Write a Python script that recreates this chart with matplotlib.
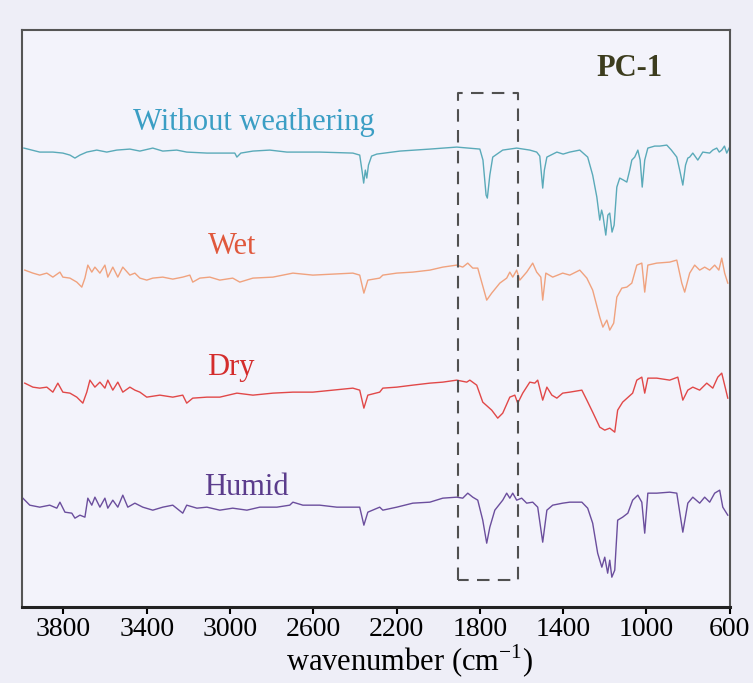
import numpy as np
import matplotlib
matplotlib.use("Agg")
import matplotlib.pyplot as plt

plt.rcParams["font.family"] = ["Liberation Serif", "DejaVu Serif"]
plt.rcParams["mathtext.fontset"] = "custom"
plt.rcParams["mathtext.rm"] = "Liberation Serif"

# ---- spectra: wavenumber (cm-1) and relative transmittance (a.u.) ----
wn_none = [3990, 3914, 3851, 3803, 3769, 3745, 3721, 3688, 3640, 3592, 3544, 3481, 3433, 3371, 3323,
           3256, 3208, 3111, 3015, 2977, 2967, 2948, 2890, 2809, 2727, 2569, 2410, 2377, 2365, 2358,
           2350, 2343, 2335, 2320, 2295, 2184, 2040, 1911, 1800, 1785, 1770, 1764, 1752, 1738, 1690,
           1623, 1560, 1527, 1512, 1498, 1490, 1478, 1430, 1400, 1368, 1320, 1282, 1258, 1238, 1224,
           1215, 1209, 1195, 1185, 1176, 1165, 1155, 1142, 1128, 1110, 1094, 1080, 1070, 1056, 1041,
           1030, 1020, 1008, 993, 960, 936, 902, 880, 854, 840, 825, 812, 801, 792, 777, 753, 729,
           696, 681, 662, 650, 638, 625, 614, 600]
t_none = [2, -2, -2, -3, -5, -8, -5, -2, 0, -2, 0, 1, -1, 2, -1,
          0, -2, -3, -3, -3, -7, -3, -1, 0, -2, -2, -3, -5, -22, -33,
          -20, -28, -15, -6, -4, -1, 1, 3, 1, -10, -45, -48, -25, -7, 0,
          2, 0, -2, -6, -38, -20, -7, -2, -4, -2, 0, -7, -25, -47, -70,
          -60, -65, -85, -65, -63, -82, -75, -37, -28, -30, -32, -20, -10, -7, 0,
          -10, -37, -10, 2, 4, 4, 5, 0, -7, -20, -35, -15, -8, -7, -3, -10, -2,
          -3, 0, 2, -2, 0, 4, -3, 3]

wn_wet = [3986, 3947, 3914, 3880, 3851, 3817, 3803, 3769, 3736, 3712, 3697, 3683, 3664, 3649, 3625,
          3601, 3587, 3563, 3539, 3515, 3481, 3457, 3433, 3400, 3371, 3323, 3275, 3227, 3193, 3179,
          3145, 3097, 3049, 2987, 2953, 2890, 2794, 2698, 2602, 2506, 2410, 2377, 2357, 2338, 2281,
          2266, 2199, 2122, 2040, 1978, 1911, 1882, 1858, 1834, 1810, 1767, 1743, 1704, 1671, 1656,
          1642, 1623, 1608, 1575, 1546, 1527, 1507, 1498, 1483, 1450, 1402, 1368, 1320, 1286, 1258,
          1224, 1209, 1190, 1176, 1157, 1142, 1118, 1094, 1070, 1046, 1022, 1008, 993, 950, 888,
          854, 830, 816, 792, 768, 744, 720, 696, 672, 652, 638, 624, 609]
t_wet = [5, 2, 0, 2, -2, 3, -2, -3, -7, -12, -3, 10, 3, 8, 2,
         10, -2, 8, -2, 8, 0, 2, -3, -5, -3, -2, -4, -2, 0, -7,
         -3, -2, -5, -3, -7, -3, -2, 2, 0, 1, 2, 0, -18, -5, -3,
         0, 2, 3, 5, 8, 10, 8, 12, 7, 7, -25, -18, -8, -3, 3,
         -2, 5, -5, 3, 12, 3, -2, -25, 2, -2, 2, 0, 5, -3, -15,
         -42, -52, -45, -55, -48, -22, -13, -12, -8, 10, 12, -17, 10, 12, 13,
         15, -8, -17, 2, 10, 5, 8, 5, 10, 5, 17, 2, -8]

wn_dry = [3986, 3947, 3914, 3880, 3851, 3827, 3803, 3769, 3736, 3707, 3688, 3673, 3649, 3625, 3601,
          3587, 3563, 3539, 3515, 3481, 3457, 3433, 3400, 3337, 3275, 3227, 3208, 3179, 3111, 3049,
          2967, 2890, 2794, 2698, 2602, 2506, 2410, 2377, 2357, 2338, 2281, 2266, 2199, 2122, 2040,
          1978, 1911, 1863, 1848, 1815, 1786, 1743, 1714, 1690, 1656, 1632, 1618, 1594, 1560, 1536,
          1522, 1498, 1478, 1454, 1430, 1402, 1368, 1310, 1286, 1258, 1224, 1200, 1176, 1152, 1138,
          1114, 1066, 1046, 1022, 1008, 993, 950, 888, 849, 825, 801, 777, 744, 710, 681,
          657, 638, 624, 609]
t_dry = [7, 3, 2, 3, -2, 7, -2, -3, -7, -13, -2, 10, 3, 8, 2,
         10, 0, 8, -2, 3, 0, -2, -7, -5, -7, -5, -13, -8, -7, -7,
         -3, -5, -3, -2, -2, 0, 2, 0, -18, -5, -2, 2, 3, 5, 7,
         8, 10, 8, 10, 5, -12, -20, -28, -23, -7, -5, -13, -3, 8, 7,
         10, -10, 3, -5, -8, -3, -2, 0, -10, -22, -37, -40, -38, -42, -20,
         -12, -3, 10, 13, -3, 12, 12, 10, 13, -10, 0, 3, 0, 7, 2,
         13, 17, 5, -8]

wn_humid = [3995, 3962, 3914, 3866, 3832, 3817, 3793, 3760, 3745, 3721, 3697, 3683, 3664, 3649, 3625,
            3601, 3587, 3563, 3539, 3515, 3491, 3457, 3419, 3371, 3323, 3275, 3227, 3208, 3159, 3111,
            3049, 2987, 2919, 2857, 2775, 2713, 2698, 2650, 2569, 2487, 2410, 2377, 2357, 2338, 2281,
            2266, 2199, 2122, 2040, 1978, 1911, 1882, 1858, 1834, 1810, 1786, 1767, 1752, 1728, 1690,
            1671, 1656, 1642, 1623, 1599, 1575, 1546, 1522, 1498, 1478, 1450, 1402, 1368, 1310, 1282,
            1258, 1234, 1214, 1200, 1186, 1176, 1166, 1152, 1138, 1114, 1089, 1066, 1041, 1022, 1008,
            993, 950, 888, 854, 825, 801, 777, 744, 720, 696, 672, 648, 633, 609]
t_humid = [7, 0, -2, 0, -3, 3, -7, -8, -13, -10, -12, 7, 0, 8, -2,
           7, -3, 5, -2, 10, -2, 2, -2, -5, -2, 0, -8, 0, -3, -2,
           -5, -3, -5, -2, -2, 0, 3, 0, 0, -2, -2, -2, -20, -7, -2,
           -5, -2, 2, 3, 7, 8, 7, 12, 8, 5, -15, -38, -22, -5, 5,
           12, 7, 12, 5, 7, 2, 3, -2, -37, -5, 0, 2, 3, 3, -3,
           -18, -48, -62, -52, -68, -55, -72, -65, -15, -12, -8, 5, 10, 3, -28,
           12, 12, 13, 12, -27, 2, 8, 2, 8, 3, 12, 15, -2, -10]

names = ["Without weathering", "Wet", "Dry", "Humid"]
line_colors = ["#5aaab9", "#f0a27e", "#e14848", "#6b4e9d"]
text_colors = ["#3b9ec4", "#e0583c", "#d42c2c", "#5b3c8c"]
offsets = [457, 332, 217, 102]
label_pos = [(2886, 485), (2991, 361), (2996, 240), (2919, 120)]

box_wn = (1905, 1615)
box_y = (27, 514)

fig = plt.figure(figsize=(7.53, 6.83), dpi=100, facecolor="#eeeef7")
ax = fig.add_axes([0.029, 0.111, 0.940, 0.845], facecolor="#f3f3fb")

series = [(wn_none, t_none), (wn_wet, t_wet), (wn_dry, t_dry), (wn_humid, t_humid)]
for (wn, t), off, lc, tc, name, (lx, ly) in zip(series, offsets, line_colors, text_colors, names, label_pos):
    ax.plot(wn, np.array(t) + off, color=lc, lw=1.0)
    ax.text(lx, ly, name, color=tc, fontsize=22, ha="center", va="center")

ax.plot([box_wn[0], box_wn[0], box_wn[1], box_wn[1], box_wn[0]],
        [box_y[0], box_y[1], box_y[1], box_y[0], box_y[0]],
        color="#505050", lw=1.5, ls=(0, (6, 4)))

ax.text(1080, 539, "PC-1", color="#3c3c1e", fontsize=22, fontweight="bold", ha="center", va="center")

ax.set_xlim(4000, 600)
ax.set_ylim(0, 577)
ax.set_xticks([3800, 3400, 3000, 2600, 2200, 1800, 1400, 1000, 600])
ax.set_yticks([])
ax.tick_params(axis="x", direction="out", length=5, width=1.5, labelsize=20, pad=2)
ax.set_xlabel("wavenumber (cm$^{\\mathregular{-1}}$)", fontsize=22)
ax.xaxis.set_label_coords(0.548, -0.062)
for side, sp in ax.spines.items():
    sp.set_color("#555555")
    sp.set_linewidth(1.5)
ax.spines["bottom"].set_color("#222222")
ax.spines["bottom"].set_linewidth(2.2)

fig.savefig("out.png", dpi=100, facecolor=fig.get_facecolor())
